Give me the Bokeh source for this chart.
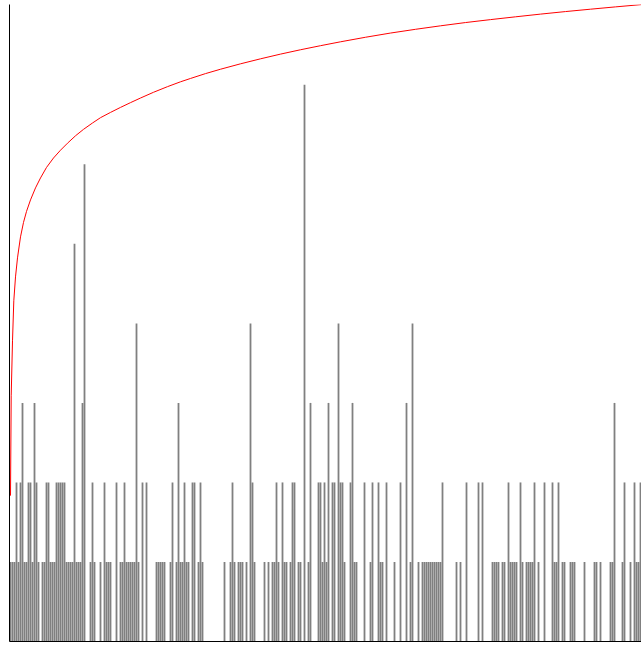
from bokeh.plotting import figure
from bokeh.models import ColumnDataSource, FixedTicker
from bokeh.embed import file_html
from bokeh.resources import INLINE

# bar heights, one per slot
heights = [
    1, 1, 1, 2, 1, 2, 3, 1, 1, 2, 2, 1, 3, 2, 1, 0, 1, 1, 2, 2,
    1, 1, 1, 2, 2, 2, 2, 2, 1, 1, 1, 1, 5, 1, 1, 1, 3, 6, 0, 0,
    1, 2, 1, 0, 0, 1, 0, 2, 1, 1, 1, 0, 0, 2, 0, 1, 1, 2, 1, 1,
    1, 1, 1, 4, 1, 0, 2, 0, 2, 0, 0, 0, 0, 1, 1, 1, 1, 1, 0, 0,
    1, 2, 0, 1, 3, 1, 1, 2, 1, 1, 0, 2, 2, 0, 1, 2, 1, 0, 0, 0,
    0, 0, 0, 0, 0, 0, 0, 1, 0, 0, 1, 2, 1, 0, 1, 1, 1, 0, 1, 0,
    4, 2, 1, 0, 0, 0, 0, 1, 0, 1, 0, 1, 1, 2, 1, 0, 2, 1, 1, 0,
    1, 2, 2, 0, 1, 1, 0, 7, 0, 1, 3, 0, 0, 0, 2, 2, 1, 2, 1, 3,
    0, 2, 2, 0, 4, 2, 2, 1, 0, 0, 2, 3, 1, 1, 0, 0, 0, 2, 0, 0,
    1, 2, 0, 0, 2, 1, 1, 0, 2, 0, 0, 0, 1, 0, 0, 2, 0, 0, 3, 0,
    1, 4, 0, 0, 1, 0, 1, 1, 1, 1, 1, 1, 1, 1, 1, 1, 2, 0, 0, 0,
    0, 0, 0, 1, 0, 1, 0, 0, 2, 0, 0, 0, 0, 0, 2, 0, 2, 0, 0, 0,
    0, 1, 1, 1, 1, 0, 1, 1, 0, 2, 1, 1, 1, 1, 0, 2, 1, 0, 1, 1,
    1, 1, 2, 0, 1, 0, 0, 2, 0, 0, 0, 2, 1, 1, 2, 0, 1, 1, 0, 0,
    1, 1, 1, 0, 0, 0, 0, 1, 0, 0, 0, 0, 1, 1, 0, 1, 0, 0, 0, 0,
    1, 1, 3, 0, 0, 0, 1, 2, 0, 0, 1, 0, 2, 1, 1, 2,
]

# red curve
curve_x = [0.5, 0.85, 1.5, 2.15, 3.0, 4.0, 5.5, 7.0, 8.5, 10.5, 13.0, 15.5,
           18.5, 22.0, 25.5, 29.0, 33.0, 37.0, 41.5, 45.5, 50.5, 55.5, 60.5,
           65.5, 72.0, 79.0, 85.5, 90.5, 98.0, 105.5, 115.5, 125.5, 135.5,
           145.5, 155.5, 165.5, 178.0, 190.5, 203.0, 215.5, 228.0, 240.5,
           253.0, 265.5, 278.0, 290.5, 303.0, 316.0]
curve_y = [1.834, 3.090, 3.781, 4.284, 4.585, 4.824, 5.088, 5.270, 5.408,
           5.553, 5.704, 5.829, 5.961, 6.080, 6.178, 6.266, 6.359, 6.440,
           6.520, 6.587, 6.653, 6.716, 6.776, 6.834, 6.906, 6.977, 7.038,
           7.080, 7.141, 7.196, 7.264, 7.327, 7.386, 7.441, 7.492, 7.541,
           7.598, 7.651, 7.698, 7.742, 7.783, 7.820, 7.855, 7.889, 7.921,
           7.951, 7.980, 8.009]

n = len(heights)
xs = [i + 0.5 for i in range(n)]
src = ColumnDataSource(data=dict(x=[x for x, h in zip(xs, heights) if h > 0],
                                 top=[h for h in heights if h > 0]))

p = figure(width=641, height=642, x_range=(0, n), y_range=(0, 8.01),
           output_backend="svg", toolbar_location=None,
           min_border_left=9, min_border_right=0, min_border_top=4,
           min_border_bottom=1)
p.background_fill_color = "white"
p.border_fill_color = "white"
p.outline_line_color = None
p.grid.visible = False

for ax in (p.xaxis[0], p.yaxis[0]):
    ax.ticker = FixedTicker(ticks=[])
    ax.major_tick_line_color = None
    ax.minor_tick_line_color = None
    ax.major_tick_out = 0
    ax.major_tick_in = 0
    ax.minor_tick_out = 0
    ax.minor_tick_in = 0
    ax.major_label_standoff = 0
    ax.axis_line_color = "black"
    ax.axis_line_width = 1

p.line(curve_x, curve_y, line_color="red", line_width=1)
p.vbar(x="x", top="top", bottom=0, width=0.9, source=src,
       fill_color="#808080", line_color=None)

open("out.html", "w").write(file_html(p, INLINE))
